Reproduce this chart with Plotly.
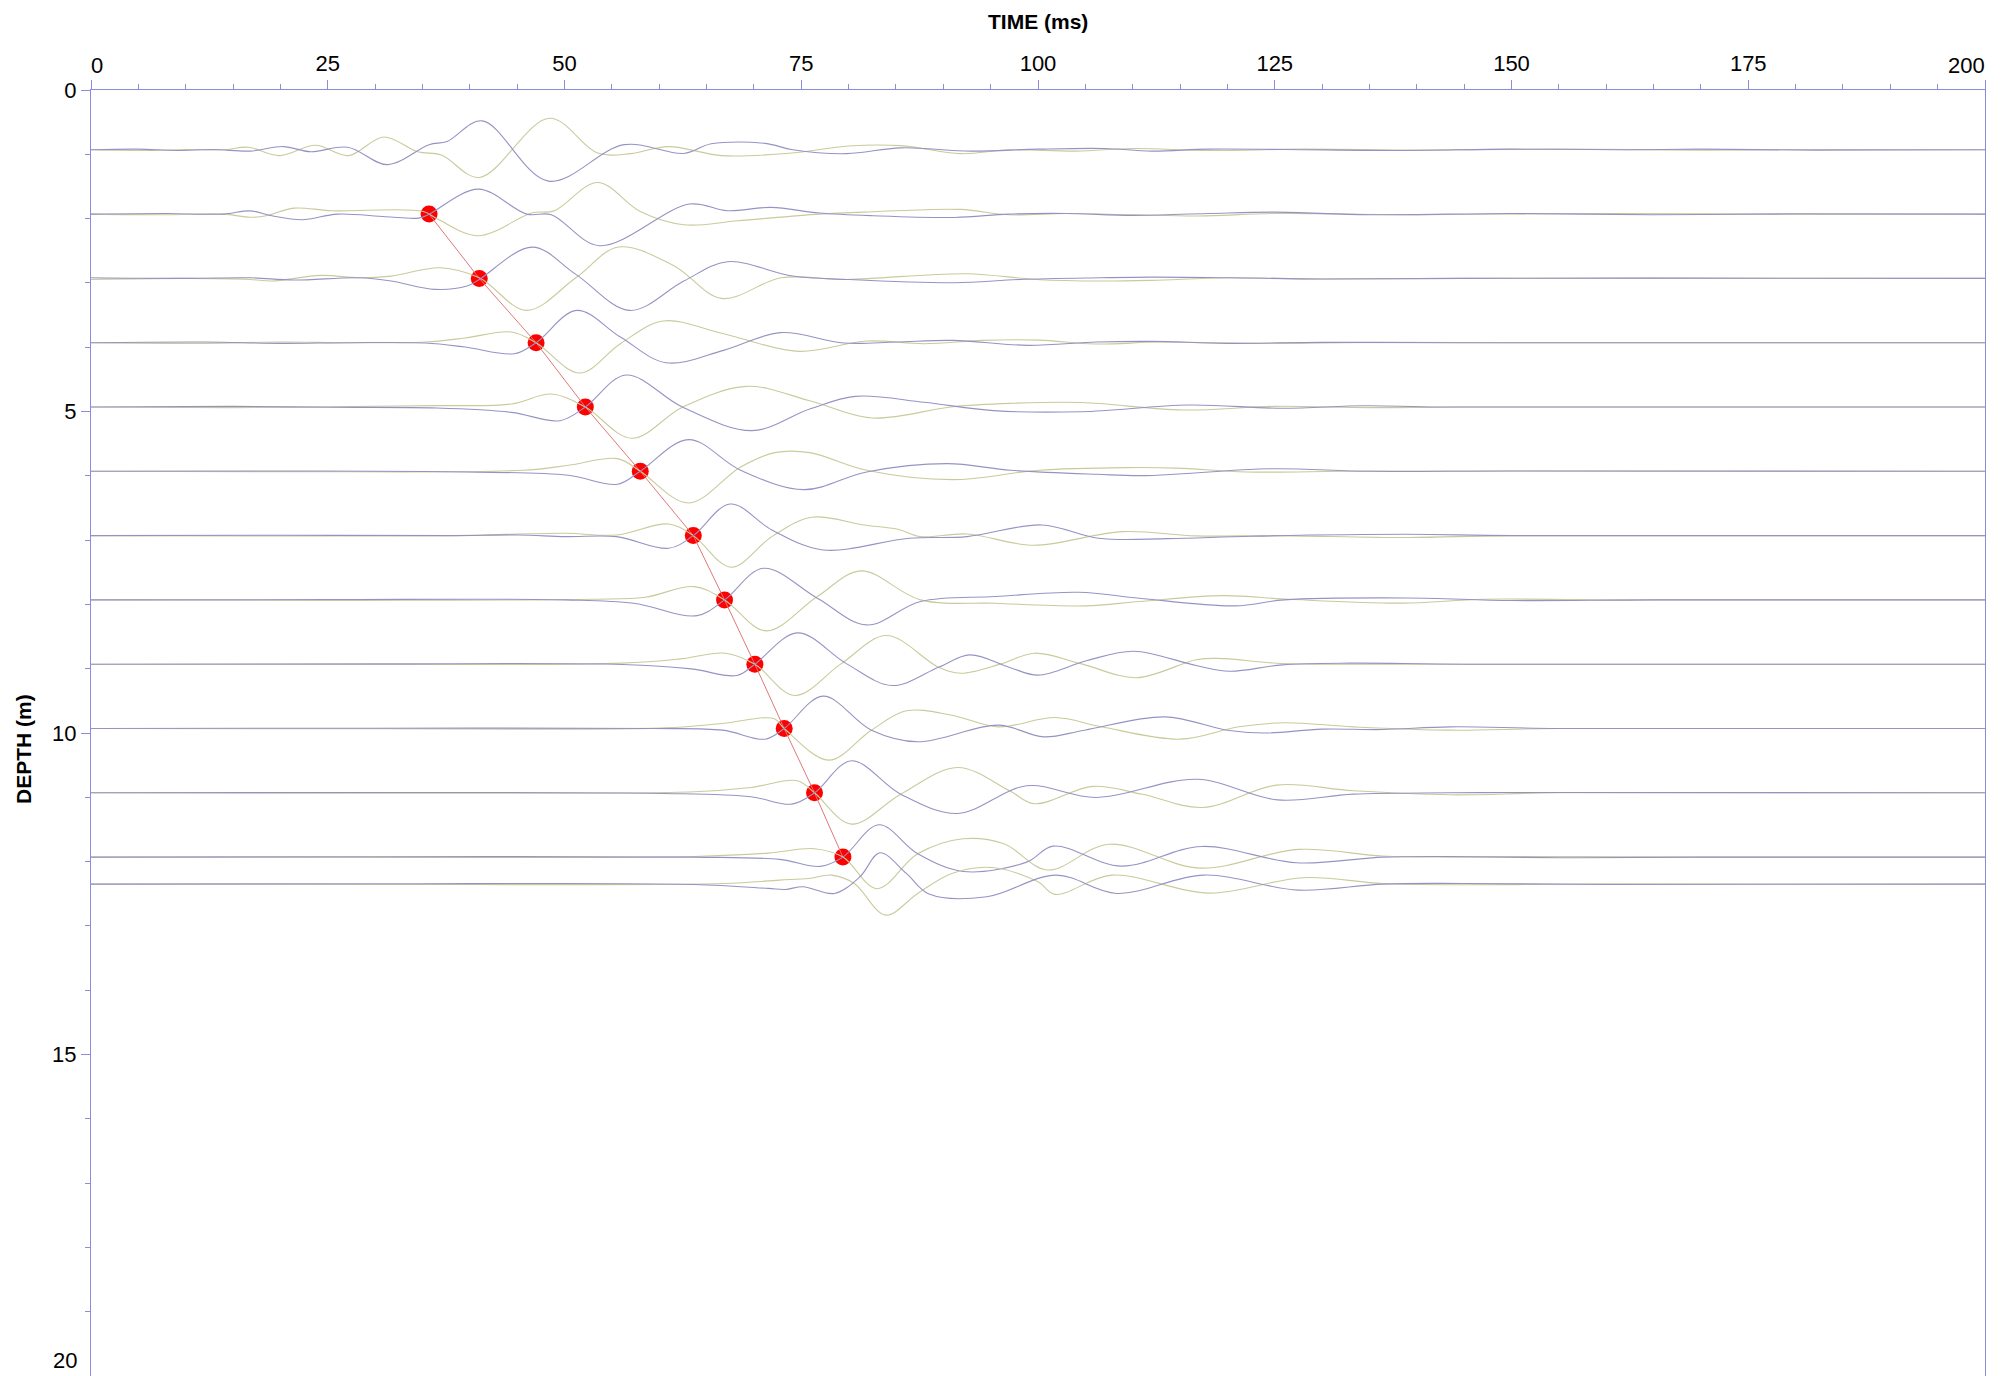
import plotly.graph_objects as go

# ---------------- data ----------------
DEPTHS = [0.93, 1.93, 2.93, 3.93, 4.93, 5.93, 6.93, 7.93, 8.93, 9.93, 10.93, 11.93, 12.35]

# knots: (time ms, amplitude m; positive = upward deflection)
BLUE_1 = [(0,0),(5,0.01),(9,-0.01),(13,0.005),(16.8,-0.02),(20.3,0.05),(23.2,-0.03),(27.1,0.04),(31.3,-0.23),(35.7,0.08),(37.6,0.13),(41.3,0.45),(48.3,-0.487),(56.3,0.08),(62.6,-0.057),(65.5,0.093),(71.2,0.1),(74.1,0.0),(79.8,-0.06),(85.5,0.03),(92.9,-0.02),(100,0.01),(107,0.02),(112,-0.02),(118,0.01),(126,0.005),(138,-0.01),(150,0.01),(162,0),(170,0.01),(182,-0.005),(200,0)]
OLIVE_1 = [(0,0),(6,-0.01),(10,0.005),(14,0),(16.6,0.04),(19.9,-0.09),(23.7,0.07),(27.2,-0.09),(30.9,0.2),(34.5,-0.03),(37,-0.08),(41,-0.43),(48.4,0.49),(53.5,-0.05),(57,-0.06),(61,0.05),(66.6,-0.09),(74,-0.05),(80,0.06),(85.5,0.065),(91.8,-0.06),(97,0),(104,-0.02),(110,0.02),(118,-0.01),(128,0.01),(140,-0.005),(155,0.01),(170,-0.005),(185,0.005),(200,0)]

BLUE_2 = [(0,0),(8,0.01),(14,0),(16.8,0.05),(19.1,-0.026),(22.3,-0.088),(26,0.0),(31.1,-0.041),(34.6,-0.062),(35.6,-0.01),(40.9,0.389),(46,0.0),(48.6,-0.01),(53.7,-0.492),(63.2,0.156),(67.2,0.052),(71.8,0.104),(76.9,0.016),(82.6,-0.026),(91.2,-0.052),(96.9,0.0),(103,0.01),(110,-0.02),(118,0.01),(125,0.03),(135,-0.01),(150,0.01),(165,-0.01),(180,0.005),(200,0)]
OLIVE_2 = [(0,0),(8,-0.01),(14,0),(16.8,-0.05),(18.5,-0.026),(21.4,0.093),(25.4,0.052),(35.1,0.041),(36.6,-0.078),(40.9,-0.337),(46.6,0.02),(48.9,0.05),(53.5,0.492),(58,0.04),(62.6,-0.166),(68.3,-0.104),(76.9,0.0),(82.6,0.036),(91.8,0.073),(96.9,-0.01),(103,0.01),(110,-0.01),(117,-0.03),(125,0.01),(140,-0.01),(160,0.01),(180,-0.005),(200,0)]

BLUE_3 = [(0,0.01),(10,0),(16.8,0.01),(21.4,-0.026),(28.3,0.01),(31.7,-0.041),(36.3,-0.171),(39.7,-0.119),(41,-0.016),(46.6,0.487),(51.2,0.062),(56.9,-0.498),(62.6,-0.041),(67.2,0.259),(74.1,0.036),(79.8,-0.016),(91.2,-0.067),(98.1,-0.016),(106.6,0.01),(112,0.02),(120,0.01),(130,-0.01),(145,0),(165,0.005),(200,0)]
OLIVE_3 = [(0,-0.016),(10,0),(16.8,-0.016),(19.1,-0.041),(24.3,0.047),(28.3,0.01),(31.7,0.036),(36.9,0.166),(41,0.01),(46,-0.498),(51.2,0.01),(55.7,0.487),(61.5,0.2),(66.6,-0.311),(72.9,0.01),(79.8,-0.016),(92.4,0.073),(99.8,-0.016),(106.6,-0.041),(112,-0.03),(120,0.01),(130,-0.01),(145,0),(165,0.005),(200,0)]

BLUE_4 = [(0,0),(12,0.01),(20,-0.01),(27.4,0),(35.3,-0.005),(39.5,-0.067),(44.7,-0.171),(47,0),(51.3,0.503),(55.9,0.088),(60.7,-0.311),(66.8,-0.119),(72.8,0.156),(79.5,-0.005),(85,0.01),(91,0.036),(98.9,-0.041),(106.2,0.01),(112,0.02),(120,-0.01),(130,0.005),(145,0),(200,0)]
OLIVE_4 = [(0,0),(12,-0.01),(20,0.01),(27.4,0),(35.3,0.01),(39.5,0.073),(44.4,0.166),(47,0),(51.6,-0.472),(55.9,-0.016),(60.4,0.337),(66.8,0.14),(74.7,-0.135),(81.9,0.026),(88,-0.016),(94.1,0.036),(100.1,0.04),(106,-0.02),(113,0.01),(122,-0.01),(135,0.005),(150,0),(200,0)]

BLUE_5 = [(0,0),(15,0.01),(25,-0.005),(36.5,-0.016),(44.4,-0.083),(49.5,-0.213),(52.2,0),(56.5,0.498),(62.5,-0.005),(69.8,-0.368),(75.9,-0.031),(80.7,0.166),(88,0.073),(95.3,-0.057),(104.6,-0.073),(115.9,0.031),(125.8,-0.02),(134.5,0.02),(142.4,0),(200,0)]
OLIVE_5 = [(0,0),(15,-0.01),(25,0.005),(36.5,0.021),(44.4,0.047),(48.6,0.202),(52.2,0),(57.1,-0.487),(62.5,0.0),(69.2,0.321),(75.9,0.098),(82.5,-0.171),(91,0.005),(97.1,0.057),(104.6,0.07),(115.3,-0.047),(125,0.01),(135,-0.01),(145,0),(200,0)]

BLUE_6 = [(0,0),(20,0.005),(39.5,-0.01),(50.4,-0.062),(55.6,-0.202),(58,0),(63.1,0.492),(68.6,0.016),(75.3,-0.285),(81.9,-0.01),(90.4,0.119),(97.1,0.016),(106.2,-0.047),(111.3,-0.067),(124.5,0.04),(135,0),(150,0.005),(200,0)]
OLIVE_6 = [(0,0),(20,-0.005),(45.6,0.016),(50.4,0.093),(55.6,0.197),(58,0),(63.1,-0.492),(68.6,0.067),(72.2,0.29),(75.9,0.29),(81.9,0.016),(91,-0.13),(100.1,0.016),(109.2,0.057),(114.6,0.05),(122,-0.01),(135,0.005),(200,0)]

BLUE_7 = [(0,0),(20,0.005),(38,0),(45.2,0.01),(50.1,-0.016),(55.5,-0.016),(61,-0.197),(63.6,0),(67.5,0.492),(71.9,0.088),(77.3,-0.223),(86.4,-0.041),(92.5,-0.016),(100.4,0.166),(106.4,-0.041),(113.7,-0.047),(122.5,-0.01),(139,0.02),(150,0),(200,0)]
OLIVE_7 = [(0,0),(20,-0.005),(38,0),(50.1,0.036),(55.5,0.01),(61,0.181),(63.6,0),(67.6,-0.492),(71.9,-0.016),(76.1,0.285),(81.6,0.166),(85.2,0.098),(87.6,-0.016),(92.5,0.026),(99.5,-0.15),(108.9,0.062),(116.7,-0.005),(125,0),(139.1,-0.03),(150,0),(200,0)]

BLUE_8 = [(0,0),(25,0.005),(50.1,0),(57.3,-0.052),(64,-0.244),(66.9,0),(71,0.492),(76.7,0.026),(81.9,-0.389),(87.6,-0.026),(95.5,0.052),(104.3,0.119),(110.7,0.026),(120.8,-0.093),(126,0),(139,0.03),(150,-0.01),(165,0),(200,0)]
OLIVE_8 = [(0,0),(25,-0.005),(53.1,0.01),(58.5,0.041),(63.7,0.207),(66.9,0),(71.3,-0.482),(76.7,0.052),(81.3,0.451),(87.6,0),(95.5,-0.052),(105,-0.093),(110.7,-0.026),(119.5,0.067),(126.5,0.01),(138.4,-0.05),(147,0.01),(160,0),(200,0)]

BLUE_9 = [(0,0),(30,0.005),(56.1,-0.005),(63.4,-0.073),(68.2,-0.176),(70.1,0),(74.6,0.487),(79.8,0.005),(84.6,-0.332),(89.5,-0.047),(92.8,0.145),(97,-0.05),(100,-0.17),(105.2,0.057),(110.1,0.202),(116.7,-0.021),(120.2,-0.11),(125.8,-0.01),(133,0.016),(145,0),(200,0)]
OLIVE_9 = [(0,0),(30,-0.005),(56.1,0.016),(62.2,0.083),(67,0.171),(70.1,0),(74.3,-0.487),(79.2,0.005),(84,0.446),(89.5,-0.047),(91.9,-0.14),(96.1,0.005),(99.6,0.171),(104.6,0.005),(110.4,-0.21),(116.7,0.07),(119,0.09),(125.8,0.01),(135,0),(200,0)]

BLUE_10 = [(0,0),(30,0.005),(59.4,0),(66.7,-0.026),(71.2,-0.166),(73.2,0),(77.3,0.503),(82.4,-0.026),(87.3,-0.207),(95.8,0.052),(100.6,-0.13),(104.9,-0.026),(113.4,0.181),(120,-0.026),(123.9,-0.07),(130,-0.01),(136.4,-0.016),(143.5,0.026),(155,0),(200,0)]
OLIVE_10 = [(0,0),(30,-0.005),(60.6,0.01),(66.7,0.078),(72.1,0.156),(73.2,0),(77.9,-0.492),(82.4,-0.026),(86.1,0.275),(90.9,0.207),(95.8,0.026),(101.8,0.17),(106.7,0.026),(115,-0.166),(121.2,0.026),(126,0.09),(133.3,0.026),(143.5,-0.026),(155,0),(200,0)]

BLUE_11 = [(0,0),(30,0.005),(60.6,-0.01),(69.7,-0.062),(74,-0.176),(76.4,0),(80.3,0.498),(85.5,-0.021),(91.5,-0.321),(98.8,0.109),(106.1,-0.073),(116.8,0.21),(125.3,-0.11),(133.3,-0.02),(143.5,0),(155,0.005),(200,0)]
OLIVE_11 = [(0,0),(30,-0.005),(63.7,0.016),(69.7,0.083),(74.6,0.187),(76.4,0),(80.3,-0.487),(85.5,-0.021),(91.5,0.394),(97,0.031),(99.6,-0.17),(105.8,0.1),(110.9,-0.02),(117.4,-0.228),(125.2,0.12),(133.3,0.031),(143.5,-0.031),(155,0),(200,0)]

BLUE_12 = [(0,0),(30,0.005),(63.7,0),(72.7,-0.036),(77,-0.145),(79.4,0),(83.2,0.503),(87.3,0.052),(92.1,-0.223),(98.8,-0.078),(101.6,0.171),(108.8,-0.14),(117.3,0.166),(127.3,-0.088),(136.4,0),(143.5,0.01),(155,-0.01),(170,0),(200,0)]
OLIVE_12 = [(0,0),(30,-0.005),(63.7,0.01),(71.5,0.062),(76.4,0.13),(79.4,0),(83,-0.492),(87.3,0.052),(92.1,0.285),(96.4,0.207),(101,-0.2),(107.5,0.2),(117.1,-0.171),(127.5,0.12),(136.4,0.016),(143.5,0),(155,0.01),(170,0),(200,0)]

BLUE_13 = [(0,0),(30,0.005),(63.7,-0.005),(71.5,-0.067),(73.3,-0.083),(75.2,-0.041),(78.5,-0.145),(81.2,0.114),(83.3,0.487),(86.1,0.166),(88.5,-0.155),(94.6,-0.197),(101.9,0.14),(108.3,-0.145),(117.5,0.14),(127.5,-0.093),(136.4,0),(145,0.01),(160,-0.005),(200,0)]
OLIVE_13 = [(0,0),(30,-0.005),(66.7,0.01),(72.7,0.062),(75.8,0.088),(78.2,0.14),(80.6,0.01),(83.9,-0.482),(87.3,-0.145),(90.9,0.166),(95.2,0.259),(100,0.036),(101.8,-0.16),(107.8,0.14),(118,-0.14),(128,0.1),(136.4,0.01),(145,-0.01),(160,0.005),(200,0)]

# first-arrival picks
PICK_TIMES = [35.7, 41.0, 47.0, 52.2, 58.0, 63.6, 66.9, 70.1, 73.2, 76.4, 79.4]
PICK_DEPTHS = [1.93, 2.93, 3.93, 4.93, 5.93, 6.93, 7.93, 8.93, 9.93, 10.93, 11.93]

X_TICKS = [0, 25, 50, 75, 100, 125, 150, 175, 200]
X_LABELS = ["", "25", "50", "75", "100", "125", "150", "175", ""]
Y_TICKS = [0, 5, 10, 15, 20]
Y_LABELS = ["0", "5", "10", "15", ""]

BLUES = [BLUE_1, BLUE_2, BLUE_3, BLUE_4, BLUE_5, BLUE_6, BLUE_7, BLUE_8, BLUE_9, BLUE_10, BLUE_11, BLUE_12, BLUE_13]
OLIVES = [OLIVE_1, OLIVE_2, OLIVE_3, OLIVE_4, OLIVE_5, OLIVE_6, OLIVE_7, OLIVE_8, OLIVE_9, OLIVE_10, OLIVE_11, OLIVE_12, OLIVE_13]

# ---------------- figure ----------------
FONT = "Liberation Sans, Arial, sans-serif"
AXIS_COLOR = "#8c8cdc"
BLUE_COLOR = "#9494c4"
OLIVE_COLOR = "#caca9c"

fig = go.Figure()

fig.add_trace(go.Scatter(x=PICK_TIMES, y=PICK_DEPTHS, mode="markers",
                         marker=dict(color="#ff0000", size=17, line=dict(width=0)),
                         hoverinfo="skip", showlegend=False))
fig.add_trace(go.Scatter(x=PICK_TIMES, y=PICK_DEPTHS, mode="lines",
                         line=dict(color="#e07878", width=1),
                         hoverinfo="skip", showlegend=False))

for depth, blue, olive in zip(DEPTHS, BLUES, OLIVES):
    for knots, color in ((olive, OLIVE_COLOR), (blue, BLUE_COLOR)):
        fig.add_trace(go.Scatter(
            x=[p[0] for p in knots],
            y=[depth - p[1] for p in knots],
            mode="lines",
            line=dict(color=color, width=1.1, shape="spline", smoothing=1.0),
            hoverinfo="skip", showlegend=False))

# The page body has an 8px margin, so the figure is sized/offset to compensate.
fig.update_layout(
    width=1991, height=1368,
    margin=dict(l=83, r=14, t=82, b=0),
    paper_bgcolor="white", plot_bgcolor="white",
    font=dict(family=FONT, size=22, color="black"),
    showlegend=False,
    xaxis=dict(side="top", range=[0, 200], tickvals=X_TICKS, ticktext=X_LABELS,
               automargin=False,
               ticks="outside", ticklen=9, tickwidth=1, tickcolor=AXIS_COLOR,
               minor=dict(dtick=5, ticks="outside", ticklen=5, tickcolor=AXIS_COLOR, tickwidth=1),
               showline=True, linecolor=AXIS_COLOR, linewidth=1,
               showgrid=False, zeroline=False,
               tickfont=dict(family=FONT, size=22, color="black")),
    yaxis=dict(range=[20, 0], tickvals=Y_TICKS, ticktext=Y_LABELS,
               automargin=False,
               ticks="outside", ticklen=9, tickwidth=1, tickcolor=AXIS_COLOR,
               minor=dict(dtick=1, ticks="outside", ticklen=5, tickcolor=AXIS_COLOR, tickwidth=1),
               showline=True, linecolor=AXIS_COLOR, linewidth=1, mirror=True,
               showgrid=False, zeroline=False,
               tickfont=dict(family=FONT, size=22, color="black")),
    annotations=[
        dict(text="<b>TIME (ms)</b>", x=0.5, y=1, xref="paper", yref="paper",
             xanchor="center", yanchor="middle", yshift=69, showarrow=False,
             font=dict(family=FONT, size=21, color="black")),
        dict(text="<b>DEPTH (m)</b>", x=0, y=0.5, xref="paper", yref="paper",
             xanchor="center", yanchor="middle", xshift=-68, yshift=-16, textangle=-90,
             showarrow=False, font=dict(family=FONT, size=21, color="black")),
        dict(text="20", x=0, y=20, xref="paper", yref="y",
             xanchor="right", yanchor="bottom", xshift=-12, yshift=1, showarrow=False,
             font=dict(family=FONT, size=22, color="black")),
        dict(text="0", x=0, y=1, xref="x", yref="paper",
             xanchor="center", yanchor="middle", xshift=6, yshift=25, showarrow=False,
             font=dict(family=FONT, size=22, color="black")),
        dict(text="200", x=200, y=1, xref="x", yref="paper",
             xanchor="center", yanchor="middle", xshift=-19, yshift=25, showarrow=False,
             font=dict(family=FONT, size=22, color="black")),
    ],
)

fig.write_html("out.html")
